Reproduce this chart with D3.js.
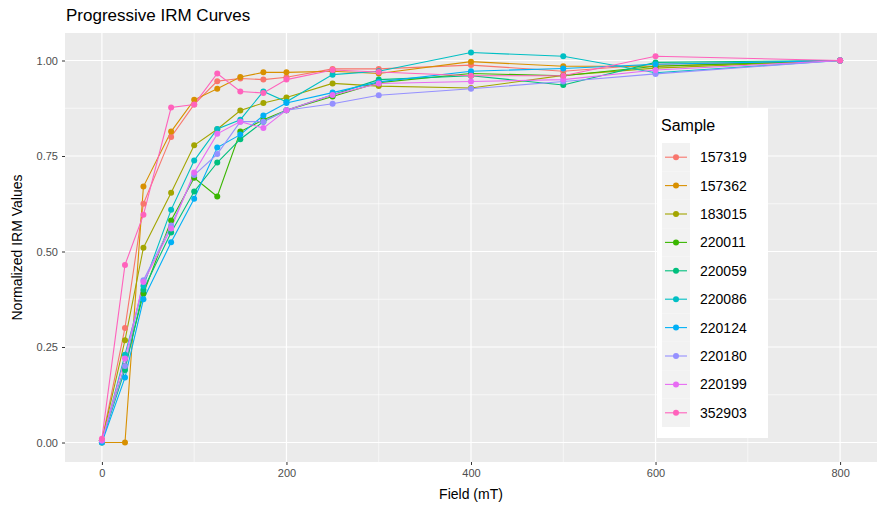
<!DOCTYPE html>
<html>
<head>
<meta charset="utf-8">
<script src="https://cdn.jsdelivr.net/npm/d3@7"></script>
<style>
  body { margin: 0; background: #fff; }
  text { font-family: "Liberation Sans", Arial, sans-serif; }
</style>
</head>
<body>
<svg id="chart" width="878" height="506"></svg>
<script>
// field steps (mT)
var fields = [0, 25, 45, 75, 100, 125, 150, 175, 200, 250, 300, 400, 500, 600, 800];
var samples = ["157319", "157362", "183015", "220011", "220059", "220086", "220124", "220180", "220199", "352903"];
var colors = ["#F8766D", "#D89000", "#A3A500", "#39B600", "#00BF7D", "#00BFC4", "#00B0F6", "#9590FF", "#E76BF3", "#FF62BC"];

// normalized IRM per sample, same order as fields
var s157319 = [0.005, 0.30, 0.625, 0.800, 0.885, 0.946, 0.953, 0.950, 0.956, 0.978, 0.978, 0.988, 0.972, 0.990, 1.0];
var s157362 = [0.000, 0.000, 0.670, 0.814, 0.897, 0.926, 0.957, 0.969, 0.969, 0.972, 0.966, 0.997, 0.985, 0.985, 1.0];
var s183015 = [0.005, 0.268, 0.510, 0.654, 0.778, 0.820, 0.869, 0.889, 0.903, 0.940, 0.933, 0.928, 0.961, 0.980, 1.0];
var s220011 = [0.005, 0.200, 0.390, 0.581, 0.693, 0.644, 0.814, 0.845, 0.870, 0.906, 0.942, 0.966, 0.960, 0.985, 1.0];
var s220059 = [0.005, 0.190, 0.400, 0.550, 0.657, 0.733, 0.794, 0.840, 0.870, 0.910, 0.950, 0.960, 0.936, 0.995, 1.0];
var s220086 = [0.000, 0.230, 0.410, 0.609, 0.738, 0.821, 0.845, 0.919, 0.892, 0.963, 0.972, 1.021, 1.011, 0.968, 1.0];
var s220124 = [0.000, 0.170, 0.375, 0.524, 0.638, 0.772, 0.806, 0.856, 0.889, 0.916, 0.944, 0.972, 0.979, 0.990, 1.0];
var s220180 = [0.005, 0.200, 0.425, 0.568, 0.700, 0.755, 0.840, 0.840, 0.870, 0.887, 0.909, 0.926, 0.945, 0.965, 1.0];
var s220199 = [0.005, 0.220, 0.420, 0.560, 0.707, 0.808, 0.840, 0.823, 0.870, 0.910, 0.940, 0.945, 0.950, 0.975, 1.0];
var s352903 = [0.010, 0.465, 0.596, 0.877, 0.885, 0.966, 0.919, 0.915, 0.950, 0.975, 0.970, 0.960, 0.960, 1.011, 1.0];
var values = [s157319, s157362, s183015, s220011, s220059, s220086, s220124, s220180, s220199, s352903];

var xTicks = [0, 200, 400, 600, 800];
var xMinor = [100, 300, 500, 700];
var yTicks = [0, 0.25, 0.5, 0.75, 1];
var yMinor = [0.125, 0.375, 0.625, 0.875];

var svg = d3.select("#chart");
var margin = {top: 33, right: 1, bottom: 44, left: 65};
var width = 878 - margin.left - margin.right,
    height = 506 - margin.top - margin.bottom;

var series = samples.map(function (s, i) {
    return {name: s, color: colors[i], pts: fields.map(function (f, j) { return {x: f, y: values[i][j]}; })};
});

var x = d3.scaleLinear().domain([-40, 840]).range([0, width]);
var y = d3.scaleLinear().domain([-0.051, 1.072]).range([height, 0]);

var g = svg.append("g").attr("transform", "translate(" + margin.left + "," + margin.top + ")");

// panel
g.append("rect").attr("width", width).attr("height", height).attr("fill", "#EBEBEB");

// grid
g.selectAll(".xminor").data(xMinor).enter().append("line")
    .attr("x1", d => x(d)).attr("x2", d => x(d)).attr("y1", 0).attr("y2", height)
    .attr("stroke", "#fff").attr("stroke-width", 0.6);
g.selectAll(".yminor").data(yMinor).enter().append("line")
    .attr("y1", d => y(d)).attr("y2", d => y(d)).attr("x1", 0).attr("x2", width)
    .attr("stroke", "#fff").attr("stroke-width", 0.6);
g.selectAll(".xmajor").data(xTicks).enter().append("line")
    .attr("x1", d => x(d)).attr("x2", d => x(d)).attr("y1", 0).attr("y2", height)
    .attr("stroke", "#fff").attr("stroke-width", 1.2);
g.selectAll(".ymajor").data(yTicks).enter().append("line")
    .attr("y1", d => y(d)).attr("y2", d => y(d)).attr("x1", 0).attr("x2", width)
    .attr("stroke", "#fff").attr("stroke-width", 1.2);

// axes
var xAxis = g.append("g").attr("transform", "translate(0," + height + ")")
    .call(d3.axisBottom(x).tickValues(xTicks).tickSize(3).tickPadding(4).tickFormat(d3.format("d")));
var yAxis = g.append("g")
    .call(d3.axisLeft(y).tickValues(yTicks).tickSize(3).tickPadding(4).tickFormat(d3.format(".2f")));
[xAxis, yAxis].forEach(function (a) {
    a.select(".domain").remove();
    a.selectAll(".tick line").attr("stroke", "#333");
    a.selectAll(".tick text").attr("fill", "#4D4D4D").style("font-size", "11px");
});

// lines
var line = d3.line().x(d => x(d.x)).y(d => y(d.y));
g.selectAll(".serie").data(series).enter().append("path")
    .attr("d", d => line(d.pts))
    .attr("fill", "none")
    .attr("stroke", d => d.color)
    .attr("stroke-width", 1.1);

// points
series.forEach(function (s) {
    g.selectAll(null).data(s.pts).enter().append("circle")
        .attr("cx", d => x(d.x)).attr("cy", d => y(d.y)).attr("r", 3)
        .attr("fill", s.color);
});

// titles
svg.append("text").attr("x", 66).attr("y", 21).attr("fill", "#000")
    .style("font-size", "17px").text("Progressive IRM Curves");
svg.append("text").attr("x", margin.left + x(400)).attr("y", 499).attr("text-anchor", "middle")
    .style("font-size", "14px").text("Field (mT)");
svg.append("text").attr("transform", "translate(22," + (margin.top + height / 2) + ") rotate(-90)")
    .attr("text-anchor", "middle").style("font-size", "14px").text("Normalized IRM Values");

// legend
var leg = svg.append("g").attr("transform", "translate(657,108)");
leg.append("rect").attr("width", 111).attr("height", 330).attr("fill", "#fff");
leg.append("text").attr("x", 4).attr("y", 23).style("font-size", "16px").text("Sample");
var keyH = 28.4;
var items = leg.selectAll(".key").data(series).enter().append("g")
    .attr("transform", (d, i) => "translate(5," + (35 + i * keyH) + ")");
items.append("rect").attr("width", 28).attr("height", keyH).attr("fill", "#F2F2F2");
items.append("line").attr("x1", 3).attr("x2", 25).attr("y1", keyH / 2).attr("y2", keyH / 2)
    .attr("stroke", d => d.color).attr("stroke-width", 1.1);
items.append("circle").attr("cx", 14).attr("cy", keyH / 2).attr("r", 3).attr("fill", d => d.color);
items.append("text").attr("x", 38).attr("y", keyH / 2 + 5).style("font-size", "14px")
    .attr("fill", "#000").text(d => d.name);
</script>
</body>
</html>
